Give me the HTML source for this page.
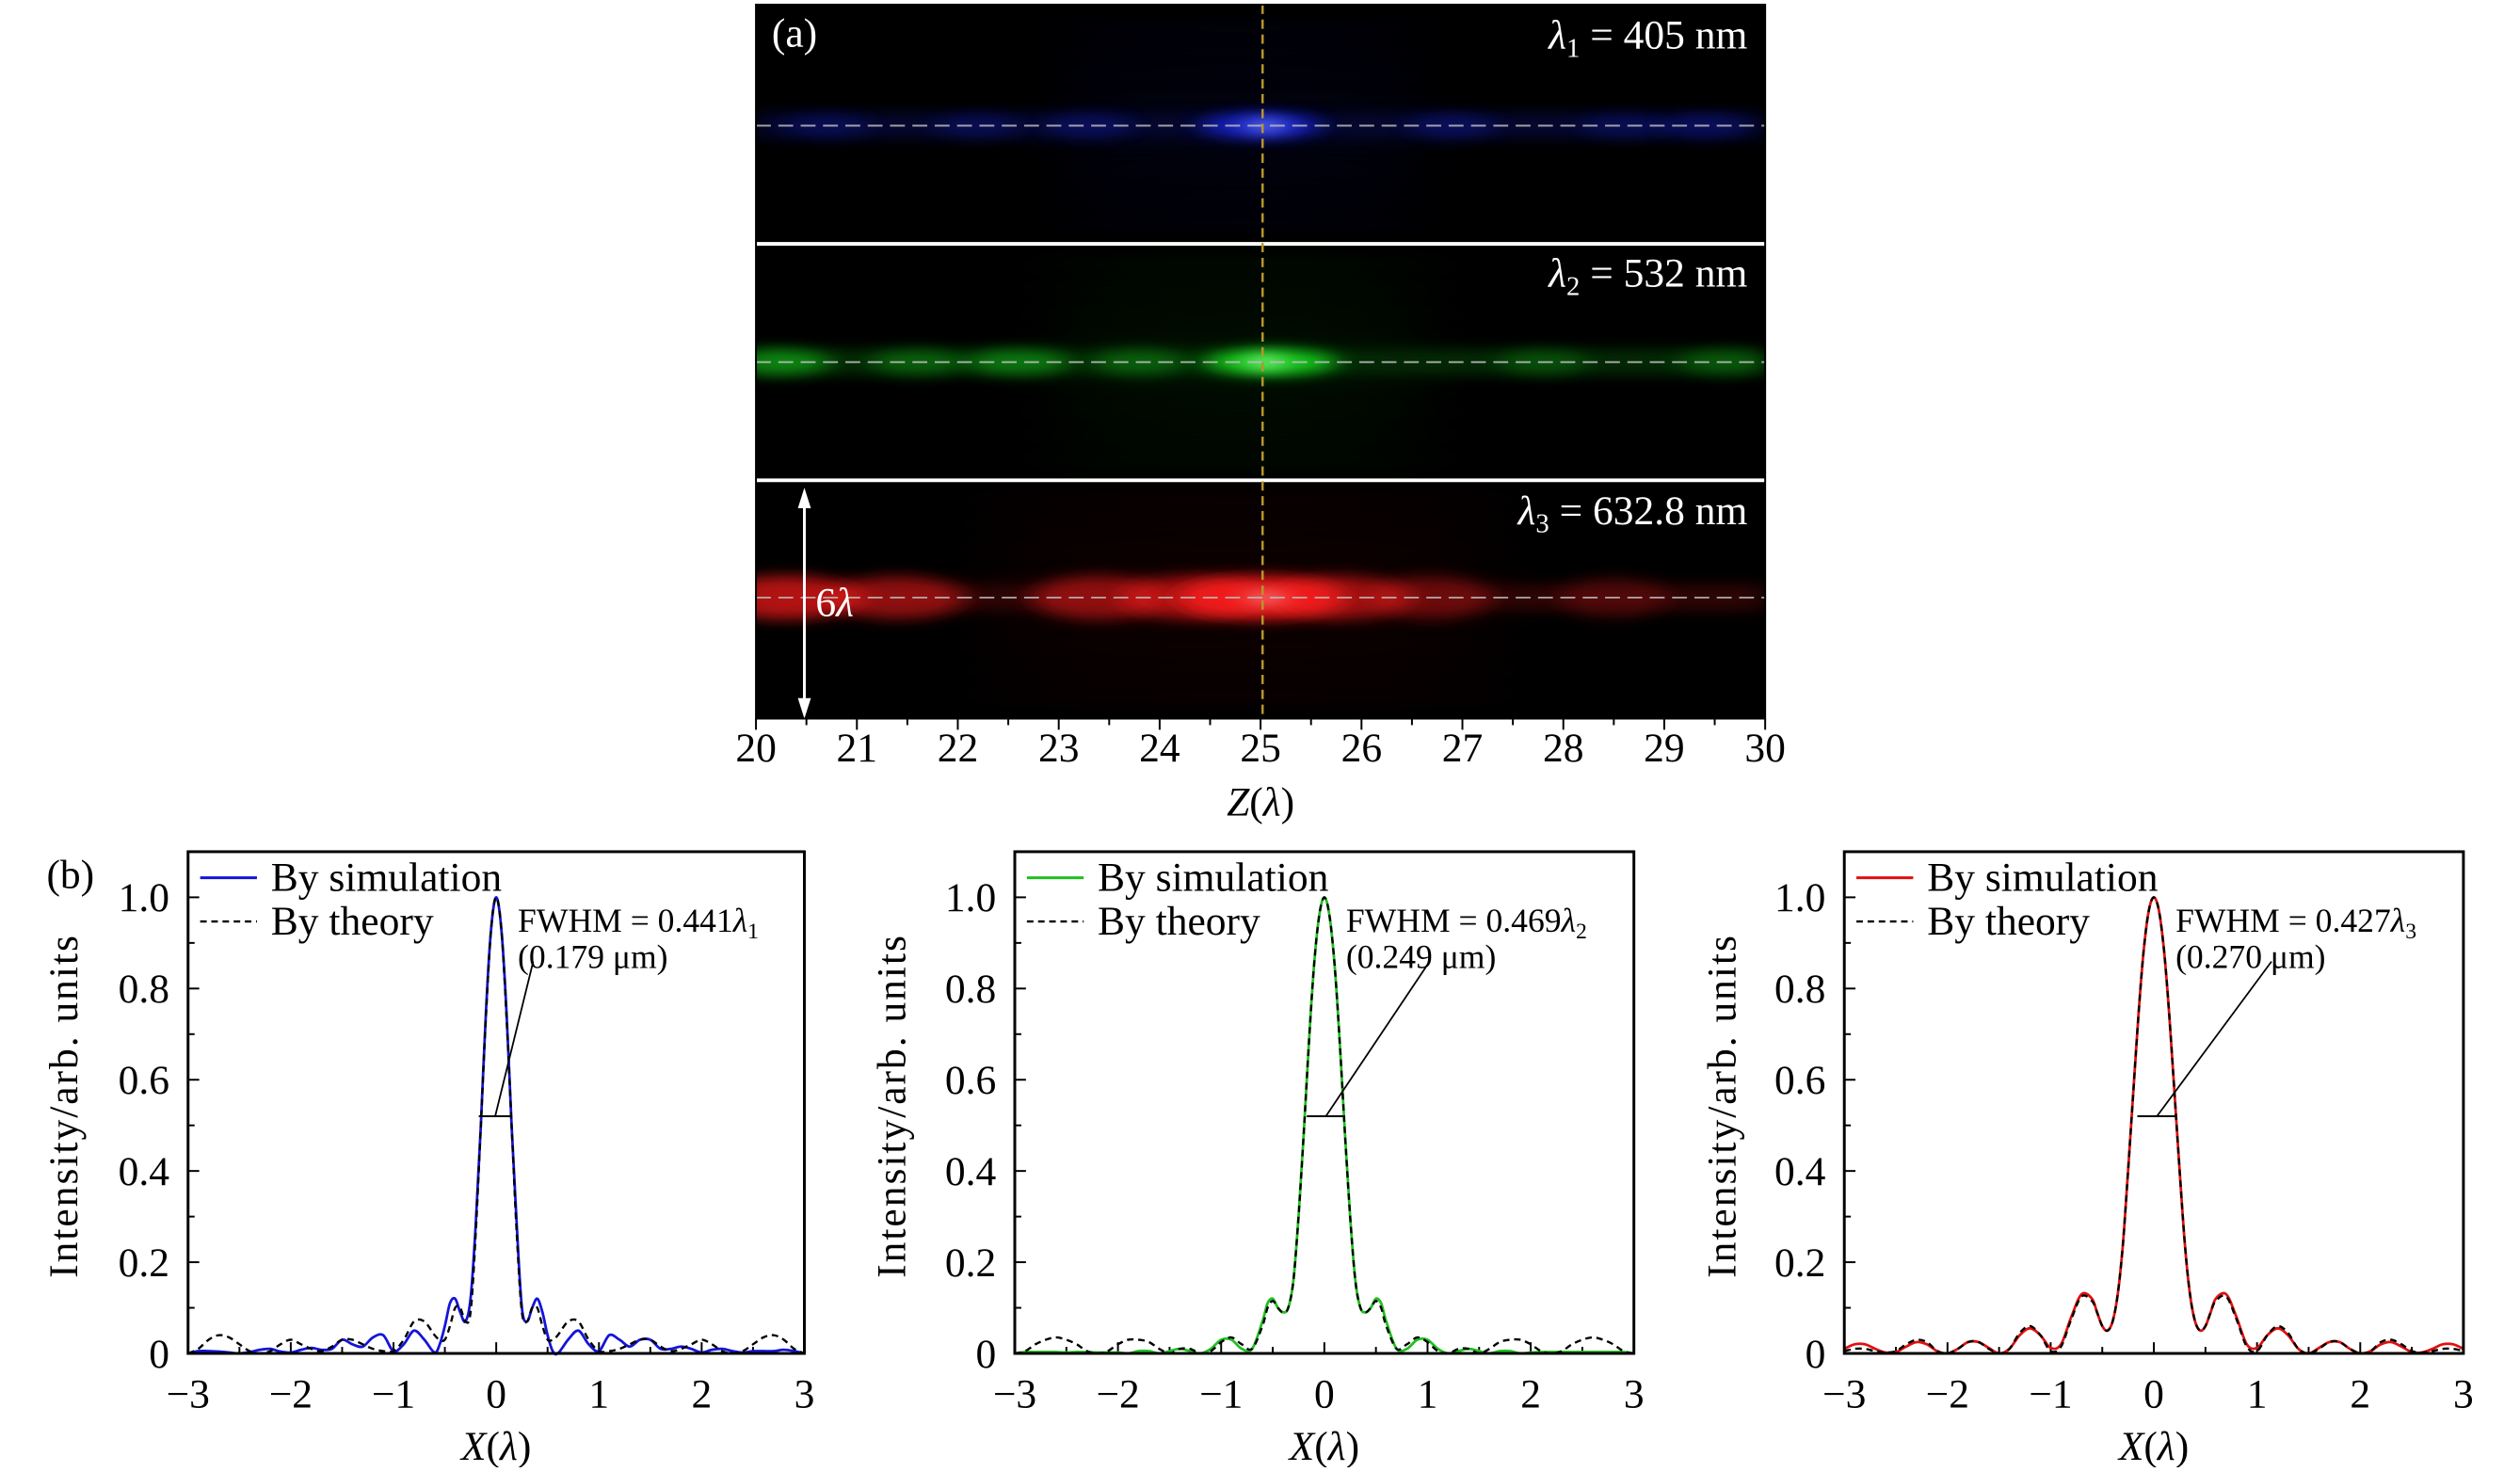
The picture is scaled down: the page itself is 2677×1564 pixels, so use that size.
<!DOCTYPE html>
<html><head><meta charset="utf-8">
<style>
html,body{margin:0;padding:0;background:#fff;}
svg text{font-family:"Liberation Serif",serif;fill:#000;}
</style></head>
<body>
<svg id="fig" width="2677" height="1559" viewBox="0 0 2677 1559" xmlns="http://www.w3.org/2000/svg">
<defs>
<filter id="blur1" x="-50%" y="-200%" width="200%" height="500%"><feGaussianBlur stdDeviation="14 7"/></filter>
<filter id="blur2" x="-50%" y="-200%" width="200%" height="500%"><feGaussianBlur stdDeviation="30 10"/></filter>
<clipPath id="clipTop"><rect x="812" y="5" width="1084" height="767"/></clipPath>
</defs>
<g transform="scale(0.989)">
<g id="topPanel"></g>
<g id="bottomPanels"></g>
</g>
</svg>
<script>
// ===== Panel (a) data =====
const zTicks = [20,21,22,23,24,25,26,27,28,29,30];
const bandNm = ["405 nm","532 nm","632.8 nm"];
const bandColors = ["#1a2cff","#19e01a","#ff1a1a"];
const focusZ = 25.02;
const blueSpotsZ = [20.7,22.2,23.3,25.0,26.9,28.6,29.4];
const blueSpotsI = [0.2,0.2,0.25,0.8,0.25,0.2,0.25];
const greenSpotsZ = [20.2,21.6,22.6,23.8,25.1,27.8,29.6];
const greenSpotsI = [0.6,0.35,0.5,0.35,1.0,0.25,0.3];
const redSpotsZ = [20.3,21.4,23.4,24.3,25.0,25.8,26.7,28.5];
const redSpotsI = [0.75,0.55,0.55,0.6,1.0,0.6,0.35,0.2];

// ===== Panel (b) data =====
const xGrid = [-3.0,-2.9,-2.8,-2.7,-2.6,-2.5,-2.4,-2.3,-2.2,-2.1,-2.0,-1.9,-1.8,-1.7,-1.6,-1.5,-1.4,-1.3,-1.2,-1.1,-1.0,-0.9,-0.8,-0.7,-0.6,
 -0.55,-0.5,-0.45,-0.4,-0.35,-0.3,-0.25,-0.2,-0.15,-0.1,-0.05,0,0.05,0.1,0.15,0.2,0.25,0.3,0.35,0.4,0.45,0.5,0.55,
 0.6,0.7,0.8,0.9,1.0,1.1,1.2,1.3,1.4,1.5,1.6,1.7,1.8,1.9,2.0,2.1,2.2,2.3,2.4,2.5,2.6,2.7,2.8,2.9,3.0];
const blueSim = [0,0.005,0.005,0.004,0.002,0,0.003,0.008,0.01,0.004,0.002,0.008,0.012,0.008,0.01,0.03,0.02,0.015,0.035,0.04,0.005,0.02,0.05,0.03,0.002,
 0.02,0.06,0.11,0.12,0.09,0.07,0.12,0.28,0.5,0.75,0.93,1.0,0.93,0.75,0.5,0.28,0.1,0.07,0.1,0.12,0.09,0.04,0.005,
 0.0,0.03,0.05,0.02,0.005,0.04,0.03,0.015,0.03,0.03,0.01,0.01,0.015,0.01,0.002,0.008,0.01,0.005,0.002,0.005,0.005,0.005,0.008,0.005,0];
const blueTheory = [0,0.01,0.03,0.04,0.035,0.02,0.005,0,0.005,0.02,0.03,0.02,0.01,0.005,0.015,0.03,0.03,0.02,0.01,0.005,0.005,0.03,0.07,0.07,0.04,
 0.03,0.03,0.06,0.1,0.1,0.07,0.09,0.26,0.5,0.74,0.93,1.0,0.93,0.74,0.5,0.26,0.09,0.07,0.1,0.1,0.06,0.03,0.03,
 0.04,0.07,0.07,0.03,0.005,0.005,0.01,0.02,0.03,0.03,0.015,0.005,0.01,0.02,0.03,0.02,0.005,0,0.005,0.02,0.035,0.04,0.03,0.01,0];
const greenSim = [0,0.003,0.003,0.003,0.003,0.002,0.003,0.003,0.002,0.002,0.002,0,0.005,0.005,0,0.005,0.01,0.005,0,0.01,0.03,0.03,0.01,0.01,0.07,
 0.11,0.12,0.1,0.09,0.1,0.16,0.3,0.48,0.68,0.85,0.96,1.0,0.96,0.85,0.68,0.48,0.3,0.16,0.1,0.09,0.1,0.12,0.11,
 0.07,0.01,0.01,0.03,0.03,0.01,0,0.005,0.01,0.005,0,0.005,0.005,0,0.002,0.003,0.003,0.003,0.003,0.003,0.003,0.003,0.003,0.003,0];
const greenTheory = [0,0.005,0.02,0.03,0.035,0.03,0.02,0.005,0,0.005,0.02,0.03,0.03,0.025,0.01,0,0.01,0.01,0,0.005,0.025,0.035,0.02,0.01,0.06,
 0.1,0.115,0.1,0.09,0.1,0.16,0.3,0.48,0.68,0.85,0.96,1.0,0.96,0.85,0.68,0.48,0.3,0.16,0.1,0.09,0.1,0.115,0.1,
 0.06,0.01,0.02,0.035,0.025,0.005,0,0.01,0.01,0,0.01,0.025,0.03,0.03,0.02,0.005,0,0.005,0.02,0.03,0.035,0.03,0.02,0.005,0];
const redSim = [0.01,0.02,0.02,0.01,0.002,0.003,0.015,0.025,0.02,0.005,0.0,0.01,0.025,0.025,0.012,0.0,0.01,0.04,0.055,0.04,0.012,0.02,0.08,0.13,0.12,
 0.09,0.06,0.05,0.07,0.13,0.24,0.4,0.57,0.74,0.88,0.97,1.0,0.97,0.88,0.74,0.57,0.4,0.24,0.13,0.07,0.05,0.06,0.09,
 0.12,0.13,0.08,0.02,0.012,0.04,0.055,0.04,0.01,0.0,0.012,0.025,0.025,0.01,0.0,0.005,0.02,0.025,0.015,0.003,0.002,0.01,0.02,0.02,0.01];
const redTheory = [0.005,0.01,0.01,0.005,0.002,0.005,0.02,0.03,0.025,0.005,0.0,0.01,0.025,0.025,0.01,0.0,0.01,0.045,0.06,0.04,0.005,0.015,0.075,0.125,0.115,
 0.09,0.06,0.05,0.07,0.13,0.24,0.4,0.57,0.74,0.88,0.97,1.0,0.97,0.88,0.74,0.57,0.4,0.24,0.13,0.07,0.05,0.06,0.09,
 0.115,0.125,0.075,0.015,0.005,0.04,0.06,0.045,0.01,0.0,0.01,0.025,0.025,0.01,0.0,0.005,0.025,0.03,0.02,0.005,0.002,0.005,0.01,0.01,0.005];
const xTicks = [-3,-2,-1,0,1,2,3];
const xTickLabels = ["\u22123","\u22122","\u22121","0","1","2","3"];
const yTicks = [0,0.2,0.4,0.6,0.8,1.0];
const yTickLabels = ["0","0.2","0.4","0.6","0.8","1.0"];
const fwhmLeft = [-0.17,-0.17,-0.16];
const fwhmRight = [0.15,0.2,0.22];
const fwhmLevel = [0.52,0.52,0.52];
const fwhmText = ["0.441","0.469","0.427"];
const fwhmSub = ["1","2","3"];
const fwhmUm = ["(0.179 μm)","(0.249 μm)","(0.270 μm)"];

const NS="http://www.w3.org/2000/svg";
function mk(tag, attrs, parent){const e=document.createElementNS(NS,tag);for(const k in attrs)e.setAttribute(k,attrs[k]);if(parent)parent.appendChild(e);return e;}

// ===== Top panel =====
const topG=document.getElementById('topPanel');
const TX0=812,TX1=1896,TY0=5,TY1=772;
const zx=z=>TX0+(z-20)/10*(TX1-TX0);
const bandY=[135,389,642];
const bg=mk('rect',{x:TX0,y:TY0,width:TX1-TX0,height:TY1-TY0,fill:'#000'},topG);


const glowG=mk('g',{'clip-path':'url(#clipTop)'},topG);
const spotsZ=[blueSpotsZ,greenSpotsZ,redSpotsZ], spotsI=[blueSpotsI,greenSpotsI,redSpotsI];
for(let b=0;b<3;b++){
  const g=mk('g',{},glowG);
  
  
  for(let k=-4;k<=4;k++){ if(k===0)continue;
    mk('ellipse',{cx:zx(24.8),cy:bandY[b]+k*26,rx:(b===2?300:220),ry:7,fill:bandColors[b],opacity:0.13/(1+Math.abs(k)*0.3),filter:'url(#blur2)'},g);}
  mk('rect',{x:TX0,y:bandY[b]-14,width:TX1-TX0,height:28,fill:bandColors[b],opacity:0.18,filter:'url(#blur1)'},g);
  for(let i=0;i<spotsZ[b].length;i++){
    const I=spotsI[b][i];
    mk('ellipse',{cx:zx(spotsZ[b][i]),cy:bandY[b],rx:(b===2?70:55)*(0.7+I*0.6),ry:(b===2?24:14),fill:bandColors[b],opacity:Math.min(1,I*0.85),filter:'url(#blur1)'},g);
  }
  mk('ellipse',{cx:zx(25.05),cy:bandY[b],rx:22,ry:7,fill:b===0?'#6a7cff':b===1?'#8cff8c':'#ff8080',opacity:0.9,filter:'url(#blur1)'},g);
}
[262,516].forEach((y,i)=>{const l=mk('line',{x1:TX0,x2:TX1,y1:y,y2:y,stroke:'#fff','stroke-width':4},topG);

});
bandY.forEach((y,i)=>{const l=mk('line',{x1:TX0,x2:TX1,y1:y,y2:y,stroke:'#bbb','stroke-width':2,'stroke-dasharray':'16 8',opacity:0.85},topG);

});
const vl=mk('line',{x1:zx(focusZ),x2:zx(focusZ),y1:TY0,y2:TY1,stroke:'#b8962a','stroke-width':2.5,'stroke-dasharray':'10 6'},topG);


const labY=[52,308,563];
for(let b=0;b<3;b++){
  const t=mk('text',{x:1877,y:labY[b],'text-anchor':'end','font-size':44,style:'fill:#fff'},topG);
  
  
  t.innerHTML='<tspan font-style="italic" style="fill:#fff">λ</tspan><tspan font-size="29" dy="9" style="fill:#fff">'+(b+1)+'</tspan><tspan dy="-9" style="fill:#fff"> = '+bandNm[b]+'</tspan>';
}
const ta=mk('text',{x:829,y:50,'font-size':44,style:'fill:#fff'},topG);ta.textContent='(a)';


const ag=mk('g',{},topG);


mk('line',{x1:864,x2:864,y1:540,y2:757,stroke:'#fff','stroke-width':3},ag);
mk('polygon',{points:'864,524 857,546 871,546',fill:'#fff'},ag);
mk('polygon',{points:'864,772 857,750 871,750',fill:'#fff'},ag);
const t6=mk('text',{x:876,y:662,'font-size':44,style:'fill:#fff'},ag);t6.innerHTML='6<tspan font-style="italic" style="fill:#fff">λ</tspan>';
mk('rect',{x:TX0,y:TY0,width:TX1-TX0,height:TY1-TY0,fill:'none',stroke:'#000','stroke-width':2},topG);
zTicks.forEach(z=>{
  mk('line',{x1:zx(z),x2:zx(z),y1:TY1,y2:TY1+12,stroke:'#000','stroke-width':2},topG);
  const t=mk('text',{x:zx(z),y:818,'text-anchor':'middle','font-size':44},topG);t.textContent=z;
  
  
});
for(let z=20.5;z<30;z+=1) mk('line',{x1:zx(z),x2:zx(z),y1:TY1,y2:TY1+7,stroke:'#000','stroke-width':2},topG);
const zt=mk('text',{x:zx(25),y:876,'text-anchor':'middle','font-size':44},topG);
zt.innerHTML='<tspan font-style="italic">Z</tspan>(<tspan font-style="italic">λ</tspan>)';



// ===== Bottom panels =====
const bottomG=document.getElementById('bottomPanels');
const panels=[
 {x0:202,x1:864,sim:blueSim,th:blueTheory,col:'#1414d8',ylab:69},
 {x0:1090,x1:1755,sim:greenSim,th:greenTheory,col:'#20c020',ylab:958},
 {x0:1981,x1:2646,sim:redSim,th:redTheory,col:'#e01010',ylab:1850}];
const BY0=915,BY1=1454;
function smoothPath(pts){let d='M'+pts[0][0].toFixed(1)+','+pts[0][1].toFixed(1);
 for(let i=0;i<pts.length-1;i++){const p0=pts[Math.max(0,i-1)],p1=pts[i],p2=pts[i+1],p3=pts[Math.min(pts.length-1,i+2)];
  const c1=[p1[0]+(p2[0]-p0[0])/6,p1[1]+(p2[1]-p0[1])/6],c2=[p2[0]-(p3[0]-p1[0])/6,p2[1]-(p3[1]-p1[1])/6];
  d+=' C'+c1[0].toFixed(1)+','+c1[1].toFixed(1)+' '+c2[0].toFixed(1)+','+c2[1].toFixed(1)+' '+p2[0].toFixed(1)+','+p2[1].toFixed(1);}
 return d;}
panels.forEach((P,pi)=>{
  const g=mk('g',{},bottomG);
  
  
  const xs=x=>P.x0+(x+3)/6*(P.x1-P.x0);
  const ys=y=>BY1-(y/1.1)*(BY1-BY0);
  xTicks.forEach((x,i)=>{
    mk('line',{x1:xs(x),x2:xs(x),y1:BY1,y2:BY1-12,stroke:'#000','stroke-width':2},g);
    const t=mk('text',{x:xs(x),y:1512,'text-anchor':'middle','font-size':44},g);t.textContent=xTickLabels[i];
    
    
  });
  for(let x=-2.5;x<3;x+=1) mk('line',{x1:xs(x),x2:xs(x),y1:BY1,y2:BY1-7,stroke:'#000','stroke-width':2},g);
  yTicks.forEach((y,i)=>{
    mk('line',{x1:P.x0,x2:P.x0+12,y1:ys(y),y2:ys(y),stroke:'#000','stroke-width':2},g);
    const t=mk('text',{x:P.x0-20,y:ys(y)+15,'text-anchor':'end','font-size':44},g);t.textContent=yTickLabels[i];
    
    
  });
  for(let y=0.1;y<1.1;y+=0.2) mk('line',{x1:P.x0,x2:P.x0+7,y1:ys(y),y2:ys(y),stroke:'#000','stroke-width':2},g);
  const simPts=xGrid.map((x,i)=>[xs(x),ys(P.sim[i]||0)]);
  const thPts=xGrid.map((x,i)=>[xs(x),ys(P.th[i]||0)]);
  const s=mk('path',{d:smoothPath(simPts),fill:'none',stroke:P.col,'stroke-width':2.8},g);
  
  
  const th=mk('path',{d:smoothPath(thPts),fill:'none',stroke:'#000','stroke-width':2.4,'stroke-dasharray':'7 5'},g);
  
  
  const fy=ys(fwhmLevel[pi]);
  const fm=mk('g',{},g);
  
  
  mk('line',{x1:xs(fwhmLeft[pi]),x2:xs(fwhmRight[pi]),y1:fy,y2:fy,stroke:'#000','stroke-width':2},fm);
  const mx=(xs(fwhmLeft[pi])+xs(fwhmRight[pi]))/2;
  const lx=pi===0?P.x0+(P.x1-P.x0)*0.56:pi===1?P.x0+(P.x1-P.x0)*0.67:P.x0+(P.x1-P.x0)*0.69;
  mk('line',{x1:mx,y1:fy,x2:lx,y2:1033,stroke:'#000','stroke-width':1.8},fm);
  const tx=P.x0+(P.x1-P.x0)*0.535;
  const ft=mk('text',{x:tx,y:1001,'font-size':36},g);
  ft.innerHTML='FWHM = '+fwhmText[pi]+'<tspan font-style="italic">λ</tspan><tspan font-size="24" dy="7">'+fwhmSub[pi]+'</tspan>';
  
  
  const fu=mk('text',{x:tx,y:1040,'font-size':36},g);fu.textContent=fwhmUm[pi];
  
  
  const lg=mk('g',{},g);
  
  
  mk('line',{x1:P.x0+13,x2:P.x0+74,y1:943,y2:943,stroke:P.col,'stroke-width':3},lg);
  const l1=mk('text',{x:P.x0+89,y:957,'font-size':44},lg);l1.textContent='By simulation';
  
  
  mk('line',{x1:P.x0+13,x2:P.x0+74,y1:990,y2:990,stroke:'#000','stroke-width':2.4,'stroke-dasharray':'7 5'},lg);
  const l2=mk('text',{x:P.x0+89,y:1004,'font-size':44},lg);l2.textContent='By theory';
  
  
  mk('rect',{x:P.x0,y:BY0,width:P.x1-P.x0,height:BY1-BY0,fill:'none',stroke:'#000','stroke-width':3},g);
  const yt=mk('text',{x:0,y:0,'text-anchor':'middle','font-size':44,'letter-spacing':'2',transform:'translate('+(P.ylab+14)+',1188) rotate(-90)'},g);
  yt.textContent='Intensity/arb. units';
  
  
  const xt=mk('text',{x:(P.x0+P.x1)/2,y:1568,'text-anchor':'middle','font-size':44},g);
  xt.innerHTML='<tspan font-style="italic">X</tspan>(<tspan font-style="italic">λ</tspan>)';
  
  
});
const tb=mk('text',{x:50,y:954,'font-size':44},bottomG);tb.textContent='(b)';


</script>
</body></html>
